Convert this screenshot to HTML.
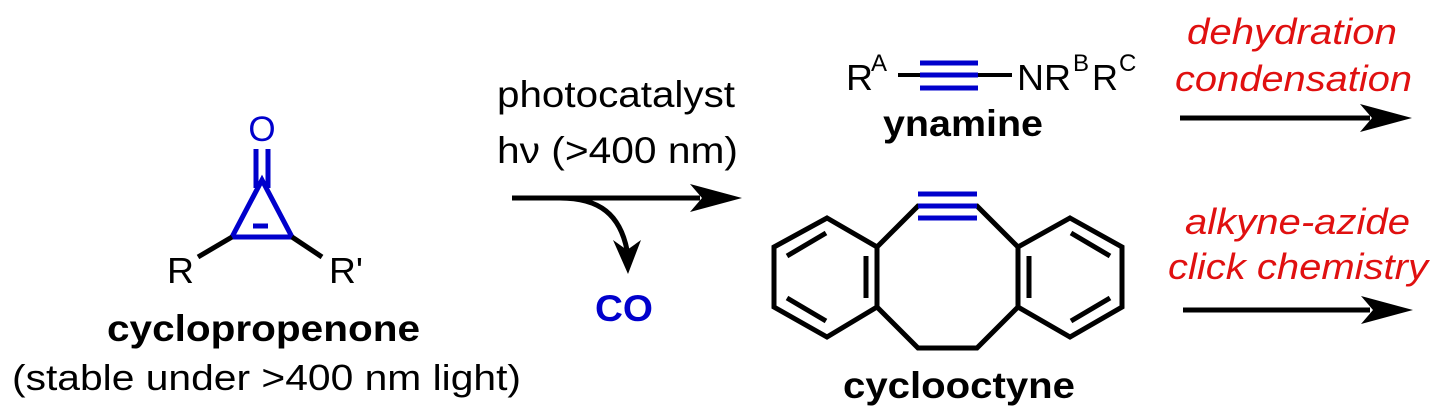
<!DOCTYPE html>
<html><head><meta charset="utf-8"><style>
html,body{margin:0;padding:0;background:#fff;}
svg{display:block;}
text{font-family:"Liberation Sans",Arial,sans-serif;}
</style></head><body>
<svg width="1440" height="419" viewBox="0 0 1440 419" xmlns="http://www.w3.org/2000/svg">
<!-- cyclopropenone -->
<g stroke="#0000cc" stroke-width="5" fill="none" stroke-linejoin="miter">
<line x1="256" y1="149" x2="256" y2="188"/>
<line x1="268" y1="149" x2="268" y2="188"/>
<polygon points="262,180 232,237 292,237"/>
<line x1="253" y1="226" x2="268" y2="226"/>
</g>
<text x="262" y="141" font-size="35" fill="#0000cc" text-anchor="middle">O</text>
<g stroke="#000" stroke-width="5">
<line x1="232" y1="237" x2="198" y2="257"/>
<line x1="292" y1="237" x2="322" y2="257"/>
</g>
<text x="167" y="283" font-size="36" textLength="27" lengthAdjust="spacingAndGlyphs">R</text>
<text x="329" y="283" font-size="36" textLength="34" lengthAdjust="spacingAndGlyphs">R'</text>
<text x="107" y="341" font-size="37" font-weight="bold" textLength="313" lengthAdjust="spacingAndGlyphs">cyclopropenone</text>
<text x="12" y="390" font-size="36" textLength="509" lengthAdjust="spacingAndGlyphs">(stable under &gt;400 nm light)</text>

<!-- middle arrow -->
<text x="497" y="107" font-size="37" textLength="238" lengthAdjust="spacingAndGlyphs">photocatalyst</text>
<text x="497" y="163" font-size="37" textLength="241" lengthAdjust="spacingAndGlyphs">hν (&gt;400 nm)</text>
<line x1="512" y1="198" x2="700" y2="198" stroke="#000" stroke-width="5"/>
<polygon points="742,198 690,184 702,198 690,212" fill="#000"/>
<path d="M560,198 C600,198 620,215 627,250" stroke="#000" stroke-width="5" fill="none"/>
<polygon points="628,274 613,240 627,250 641,240" fill="#000"/>
<text x="595" y="321" font-size="37" font-weight="bold" fill="#0000cc" textLength="58" lengthAdjust="spacingAndGlyphs">CO</text>

<!-- ynamine -->
<text x="846" y="90" font-size="36" textLength="27" lengthAdjust="spacingAndGlyphs">R</text>
<text x="871" y="71" font-size="24">A</text>
<line x1="898" y1="75" x2="1012" y2="75" stroke="#000" stroke-width="4"/>
<g stroke="#0000cc" stroke-width="5">
<line x1="920" y1="63" x2="978" y2="63"/>
<line x1="920" y1="75" x2="978" y2="75"/>
<line x1="920" y1="88" x2="978" y2="88"/>
</g>
<text x="1017" y="90" font-size="36" textLength="54" lengthAdjust="spacingAndGlyphs">NR</text>
<text x="1073" y="71" font-size="24">B</text>
<text x="1092" y="90" font-size="36" textLength="26" lengthAdjust="spacingAndGlyphs">R</text>
<text x="1119" y="71" font-size="24">C</text>
<text x="883" y="136" font-size="37" font-weight="bold" textLength="160" lengthAdjust="spacingAndGlyphs">ynamine</text>

<!-- cyclooctyne -->
<g stroke="#000" stroke-width="5" fill="none" stroke-linejoin="miter">
<polygon points="827,218 877,247 877,307 827,337 774,307 774,247"/>
<polygon points="1070,218 1122,247 1122,307 1070,337 1018,307 1018,247"/>
<polyline points="877,247 918,206 977,206 1018,247"/>
<polyline points="877,307 918,348 977,348 1018,307"/>
<line x1="787" y1="256" x2="826" y2="233"/>
<line x1="866" y1="256" x2="866" y2="298"/>
<line x1="787" y1="298" x2="826" y2="321"/>
<line x1="1029" y1="256" x2="1029" y2="298"/>
<line x1="1071" y1="233" x2="1110" y2="256"/>
<line x1="1071" y1="321" x2="1110" y2="298"/>
</g>
<g stroke="#0000cc" stroke-width="5">
<line x1="918" y1="194" x2="977" y2="194"/>
<line x1="918" y1="206" x2="977" y2="206"/>
<line x1="918" y1="218" x2="977" y2="218"/>
</g>
<text x="843" y="398" font-size="37" font-weight="bold" textLength="232" lengthAdjust="spacingAndGlyphs">cyclooctyne</text>

<!-- right arrows -->
<g font-size="36" font-style="italic" fill="#e01010">
<text x="1187" y="44" textLength="210" lengthAdjust="spacingAndGlyphs">dehydration</text>
<text x="1175" y="91" textLength="237" lengthAdjust="spacingAndGlyphs">condensation</text>
<text x="1185" y="234" textLength="225" lengthAdjust="spacingAndGlyphs">alkyne-azide</text>
<text x="1168" y="279" textLength="260" lengthAdjust="spacingAndGlyphs">click chemistry</text>
</g>
<line x1="1180" y1="118" x2="1370" y2="118" stroke="#000" stroke-width="5"/>
<polygon points="1412,118 1360,104 1372,118 1360,132" fill="#000"/>
<line x1="1183" y1="310" x2="1370" y2="310" stroke="#000" stroke-width="5"/>
<polygon points="1413,310 1361,296 1373,310 1361,324" fill="#000"/>
</svg>
</body></html>
